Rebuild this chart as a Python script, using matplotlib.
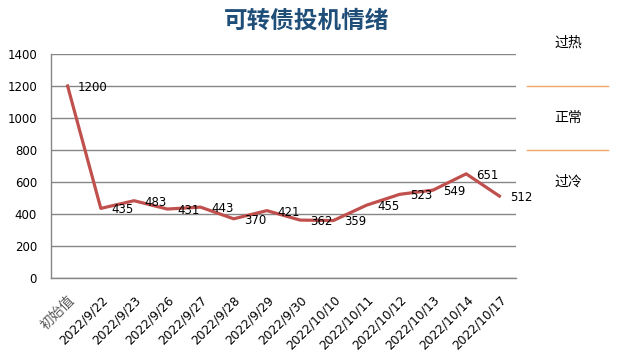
import matplotlib.pyplot as plt
import matplotlib.transforms as mtransforms

plt.rcParams['font.family'] = ['DejaVu Sans', 'Noto Sans CJK SC']

categories = ['初始值', '2022/9/22', '2022/9/23', '2022/9/26', '2022/9/27', '2022/9/28',
              '2022/9/29', '2022/9/30', '2022/10/10', '2022/10/11', '2022/10/12',
              '2022/10/13', '2022/10/14', '2022/10/17']
values = [1200, 435, 483, 431, 443, 370, 421, 362, 359, 455, 523, 549, 651, 512]

zone_labels = ['过热', '正常', '过冷']
zone_label_y = [1470, 1000, 605]
zone_lines = [1200, 800]

fig = plt.figure(figsize=(6.36, 3.57), dpi=100)
ax = fig.add_axes([51 / 636, 1 - 278 / 357, 465 / 636, 224 / 357])

x = list(range(len(values)))
ax.plot(x, values, color='#C0504D', lw=2.3, solid_joinstyle='round', zorder=3)

for xi, v in zip(x, values):
    ax.annotate(str(v), (xi, v), xytext=(7.5, -1), textcoords='offset points',
                ha='left', va='center', fontsize=8.5, color='black', zorder=4)

ax.set_xlim(-0.5, len(values) - 0.5)
ax.set_ylim(0, 1400)
ax.set_yticks(range(0, 1401, 200))
ax.grid(axis='y', color='#868686', lw=1)
ax.set_axisbelow(True)

ax.set_xticks(x)
ax.set_xticklabels(categories, rotation=45, ha='right', rotation_mode='anchor', fontsize=8.8)
first = ax.get_xticklabels()[0]
first.set_color('#595959')
first.set_family(['Noto Sans CJK SC'])
first.set_fontsize(10)
ax.tick_params(axis='both', length=0)
ax.tick_params(axis='y', pad=10, labelsize=8.5)
ax.tick_params(axis='x', pad=11)

for side in ['top', 'right']:
    ax.spines[side].set_visible(False)
for side in ['left', 'bottom']:
    ax.spines[side].set_color('#868686')
    ax.spines[side].set_linewidth(1)

trans = mtransforms.blended_transform_factory(ax.transAxes, ax.transData)
for yl in zone_lines:
    ax.plot([1.0237, 1.198], [yl, yl], transform=trans, color='#F0A468', lw=1, clip_on=False)
for lab, yl in zip(zone_labels, zone_label_y):
    ax.text(1.112, yl, lab, transform=trans, ha='center', va='center', fontsize=10,
            family=['Noto Sans CJK SC'], color='black')

fig.text(307 / 636, 1 - 21 / 357, '可转债投机情绪', ha='center', va='center', fontsize=17,
         fontweight='bold', color='#1F4E79', family=['Noto Sans CJK SC'])

fig.savefig('out.png', dpi=100)
